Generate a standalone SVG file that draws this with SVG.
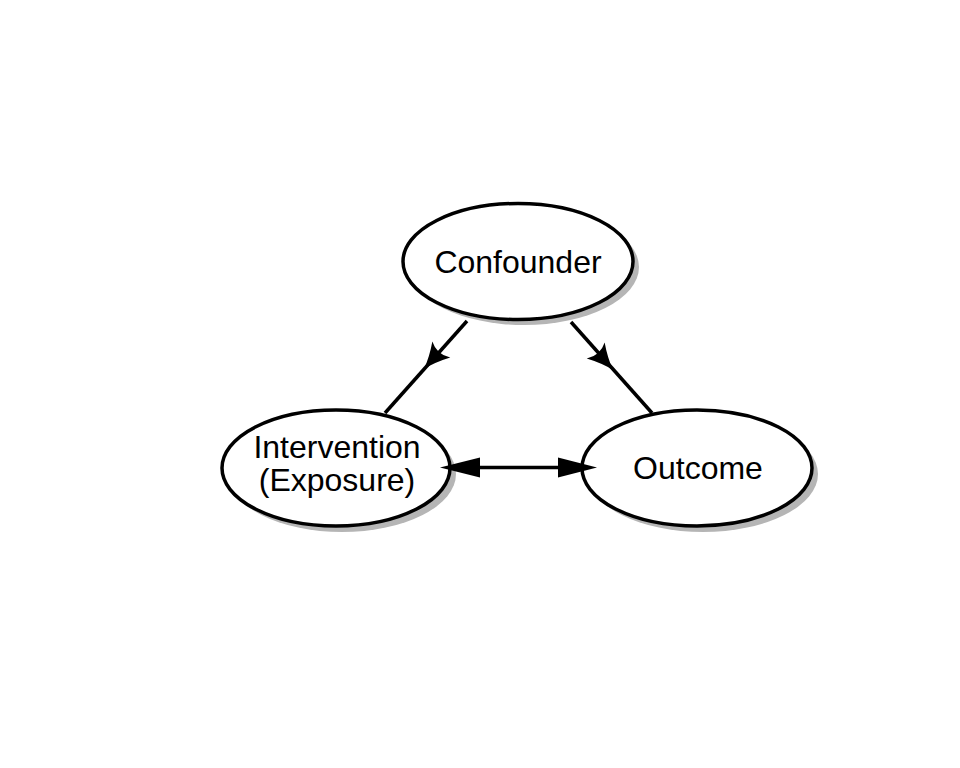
<svg xmlns="http://www.w3.org/2000/svg" width="960" height="768" viewBox="0 0 960 768">
<style>
.shadow{fill:#b5b5b5;stroke:none}
.node{fill:#ffffff;stroke:#000000;stroke-width:3.5}
.label{font-family:"Liberation Sans",Arial,sans-serif;font-size:32px;fill:#000000;text-anchor:middle}
.edge{stroke:#000000;stroke-width:3.5;fill:none}
.head{fill:#000000;stroke:none}
</style>
<defs>
<path id="vee" d="M0,0 Q-13,-4 -26,-12 Q-19,0 -26,12 Q-13,4 0,0 Z"/>
</defs>
<rect width="960" height="768" fill="#ffffff"/>
<g id="connectors">
<line class="edge" x1="467" y1="321" x2="385" y2="413"/>
<use href="#vee" class="head" transform="translate(424,369) rotate(131.7)"/>
<line class="edge" x1="571" y1="322" x2="652" y2="413"/>
<use href="#vee" class="head" transform="translate(613,370) rotate(48.3)"/>
</g>
<g id="confounder">
<ellipse class="shadow" cx="524" cy="267" rx="115" ry="58"/>
<ellipse class="node" cx="518" cy="261.5" rx="115" ry="58"/>
<text class="label" x="518" y="273">Confounder</text>
</g>
<g id="intervention">
<ellipse class="shadow" cx="342" cy="474" rx="114" ry="58"/>
<ellipse class="node" cx="336" cy="468" rx="114" ry="58"/>
<text class="label" x="337" y="458">Intervention<tspan x="337" dy="33">(Exposure)</tspan></text>
</g>
<g id="outcome">
<ellipse class="shadow" cx="703" cy="474" rx="115" ry="58"/>
<ellipse class="node" cx="697" cy="468" rx="115" ry="58"/>
<text class="label" x="698" y="479">Outcome</text>
</g>
<g id="connectors-front">
<line class="edge" x1="470" y1="467.5" x2="568" y2="467.5"/>
<polygon class="head" points="440,467.5 480,457.5 480,477.5"/>
<polygon class="head" points="597,467.5 558,457.5 558,477.5"/>
</g>
</svg>
